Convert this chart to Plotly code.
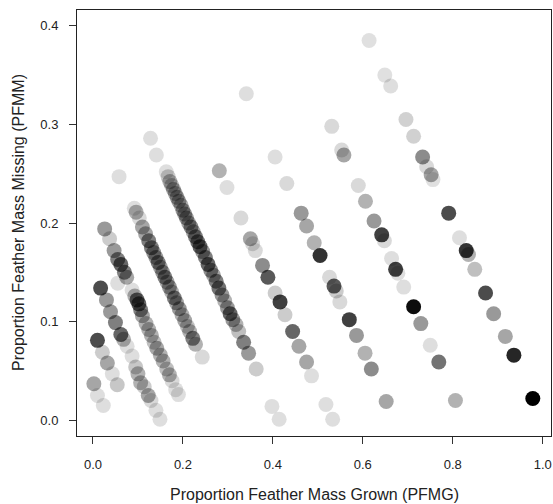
import plotly.graph_objects as go

# Proportion Feather Mass Grown (x), Proportion Feather Mass Missing (y), point darkness (opacity)
pfmg = [
    0.002, 0.010, 0.023,
    0.010, 0.021, 0.032, 0.043, 0.054,
    0.017, 0.030, 0.039, 0.050, 0.062, 0.068, 0.076, 0.087, 0.095, 0.100, 0.106, 0.114, 0.123, 0.129, 0.140, 0.149,
    0.026, 0.037, 0.047, 0.055, 0.062, 0.070, 0.075, 0.055, 0.087, 0.093, 0.098, 0.102, 0.106, 0.110, 0.118, 0.124,
    0.130, 0.136, 0.142, 0.150, 0.156, 0.164, 0.170, 0.176, 0.184, 0.190,
    0.058, 0.092, 0.096, 0.103, 0.110, 0.117, 0.124, 0.130, 0.135, 0.140, 0.145, 0.150, 0.155, 0.160, 0.165, 0.170,
    0.175, 0.181, 0.186, 0.192, 0.198, 0.204, 0.210, 0.215, 0.222, 0.228, 0.243,
    0.128, 0.141, 0.163, 0.167, 0.171, 0.175, 0.179, 0.183, 0.187, 0.191, 0.196, 0.200, 0.204, 0.208, 0.213, 0.218,
    0.223, 0.228, 0.233, 0.238, 0.244, 0.250, 0.256, 0.262, 0.268, 0.274, 0.280, 0.287, 0.293, 0.299, 0.305, 0.311,
    0.318, 0.324, 0.335, 0.346, 0.363,
    0.281, 0.298, 0.329, 0.350, 0.355, 0.361, 0.377, 0.389, 0.405, 0.416, 0.427, 0.444, 0.458, 0.475, 0.486,
    0.341, 0.405, 0.431, 0.463, 0.475, 0.492, 0.505, 0.526, 0.536, 0.541, 0.549, 0.570, 0.586, 0.605, 0.619,
    0.531, 0.553, 0.558, 0.590, 0.606, 0.625, 0.642, 0.648, 0.664, 0.673, 0.678, 0.691, 0.713, 0.729, 0.750, 0.769,
    0.614, 0.649, 0.662, 0.696, 0.713, 0.733, 0.742, 0.752, 0.756, 0.791, 0.815, 0.830, 0.835, 0.849, 0.873, 0.891,
    0.917, 0.936, 0.978,
    0.398, 0.414, 0.518, 0.533, 0.652, 0.806,
]
pfmm = [
    0.037, 0.025, 0.015,
    0.081, 0.069, 0.058, 0.047, 0.036,
    0.134, 0.122, 0.110, 0.099, 0.087, 0.082, 0.075, 0.065, 0.054, 0.047, 0.038, 0.034, 0.025, 0.020, 0.010, 0.001,
    0.194, 0.184, 0.172, 0.163, 0.158, 0.150, 0.145, 0.139, 0.132, 0.126, 0.122, 0.118, 0.112, 0.106, 0.098, 0.092,
    0.086, 0.079, 0.073, 0.066, 0.060, 0.052, 0.046, 0.040, 0.031, 0.026,
    0.247, 0.215, 0.211, 0.205, 0.196, 0.189, 0.182, 0.175, 0.170, 0.165, 0.160, 0.155, 0.150, 0.145, 0.140, 0.135,
    0.130, 0.124, 0.119, 0.113, 0.107, 0.101, 0.095, 0.090, 0.083, 0.077, 0.064,
    0.286, 0.269, 0.252, 0.247, 0.242, 0.238, 0.234, 0.230, 0.226, 0.222, 0.218, 0.213, 0.209, 0.205, 0.200, 0.196,
    0.191, 0.186, 0.181, 0.176, 0.171, 0.165, 0.158, 0.152, 0.147, 0.141, 0.134, 0.127, 0.121, 0.114, 0.108, 0.102,
    0.097, 0.090, 0.079, 0.068, 0.052,
    0.253, 0.236, 0.205, 0.184, 0.179, 0.172, 0.157, 0.145, 0.129, 0.120, 0.107, 0.090, 0.075, 0.059, 0.045,
    0.331, 0.267, 0.240, 0.210, 0.197, 0.180, 0.167, 0.145, 0.136, 0.131, 0.120, 0.102, 0.086, 0.068, 0.052,
    0.298, 0.274, 0.269, 0.238, 0.222, 0.202, 0.188, 0.182, 0.164, 0.153, 0.149, 0.135, 0.115, 0.098, 0.076, 0.059,
    0.385, 0.350, 0.339, 0.305, 0.288, 0.267, 0.257, 0.249, 0.244, 0.210, 0.185, 0.172, 0.168, 0.153, 0.129, 0.108,
    0.085, 0.066, 0.022,
    0.014, 0.001, 0.016, 0.001, 0.019, 0.020,
]
shade = [
    0.35, 0.13, 0.13,
    0.70, 0.20, 0.35, 0.13, 0.22,
    0.70, 0.40, 0.40, 0.50, 0.60, 0.30, 0.13, 0.13, 0.22, 0.30, 0.30, 0.20, 0.35, 0.15, 0.13, 0.13,
    0.40, 0.20, 0.40, 0.50, 0.60, 0.50, 0.35, 0.13, 0.13, 0.30, 0.60, 0.60, 0.50, 0.35, 0.30, 0.30,
    0.30, 0.25, 0.35, 0.30, 0.30, 0.25, 0.30, 0.15, 0.13, 0.13,
    0.13, 0.13, 0.30, 0.15, 0.35, 0.35, 0.50, 0.50, 0.40, 0.40, 0.50, 0.35, 0.40, 0.50, 0.35, 0.40,
    0.30, 0.50, 0.35, 0.40, 0.30, 0.35, 0.25, 0.30, 0.50, 0.30, 0.15,
    0.13, 0.13, 0.13, 0.20, 0.30, 0.25, 0.35, 0.30, 0.35, 0.35, 0.30, 0.40, 0.35, 0.40, 0.35, 0.45,
    0.35, 0.50, 0.55, 0.60, 0.40, 0.50, 0.60, 0.45, 0.35, 0.50, 0.55, 0.40, 0.30, 0.40, 0.60, 0.40,
    0.30, 0.25, 0.50, 0.40, 0.20,
    0.30, 0.13, 0.15, 0.35, 0.15, 0.15, 0.45, 0.65, 0.20, 0.75, 0.20, 0.60, 0.35, 0.35, 0.13,
    0.13, 0.13, 0.15, 0.40, 0.35, 0.30, 0.80, 0.15, 0.65, 0.20, 0.15, 0.75, 0.40, 0.30, 0.45,
    0.15, 0.15, 0.35, 0.15, 0.30, 0.40, 0.75, 0.15, 0.13, 0.75, 0.13, 0.13, 0.95, 0.40, 0.13, 0.55,
    0.12, 0.12, 0.13, 0.18, 0.18, 0.45, 0.15, 0.35, 0.12, 0.70, 0.13, 0.80, 0.30, 0.25, 0.70, 0.40,
    0.35, 0.85, 1.00,
    0.13, 0.13, 0.13, 0.13, 0.35, 0.30,
]

x_ticks = [0.0, 0.2, 0.4, 0.6, 0.8, 1.0]
y_ticks = [0.0, 0.1, 0.2, 0.3, 0.4]
x_title = "Proportion Feather Mass Grown (PFMG)"
y_title = "Proportion Feather Mass Missing (PFMM)"

colors = [f"rgba(0,0,0,{a})" for a in shade]

fig = go.Figure(go.Scatter(
    x=pfmg, y=pfmm, mode="markers",
    marker=dict(size=15, color=colors, line=dict(width=0)),
    hoverinfo="x+y",
))

font = "Liberation Sans, Arial, sans-serif"
axis_common = dict(
    showgrid=False, zeroline=False, showline=True, mirror=True,
    linecolor="#222", linewidth=1, ticks="outside", ticklen=7, tickwidth=1,
    tickcolor="#333", tickfont=dict(family=font, size=13, color="#222"),
)
fig.update_xaxes(range=[-0.0355, 1.0185], tickvals=x_ticks,
                 ticktext=[f"{v:.1f}" for v in x_ticks], ticklabelstandoff=9, **axis_common)
fig.update_yaxes(range=[-0.016, 0.416], tickvals=y_ticks,
                 ticktext=[f"{v:.1f}" for v in y_ticks], ticklabelstandoff=8, **axis_common)

fig.add_annotation(text=x_title, xref="paper", yref="paper", x=0.5, y=0,
                   yanchor="middle", yshift=-58, showarrow=False,
                   font=dict(family=font, size=16, color="#222"))
fig.add_annotation(text=y_title, xref="paper", yref="paper", x=0, y=0.5,
                   xanchor="center", xshift=-59, textangle=-90, showarrow=False,
                   font=dict(family=font, size=16, color="#222"))

fig.update_layout(
    width=553, height=504,
    margin=dict(l=77, r=2, t=10, b=68),
    plot_bgcolor="white", paper_bgcolor="white",
    showlegend=False,
)
fig.write_html("out.html", config={"displayModeBar": False},
               post_script="document.body.style.margin='0px';document.body.style.overflow='hidden';")
